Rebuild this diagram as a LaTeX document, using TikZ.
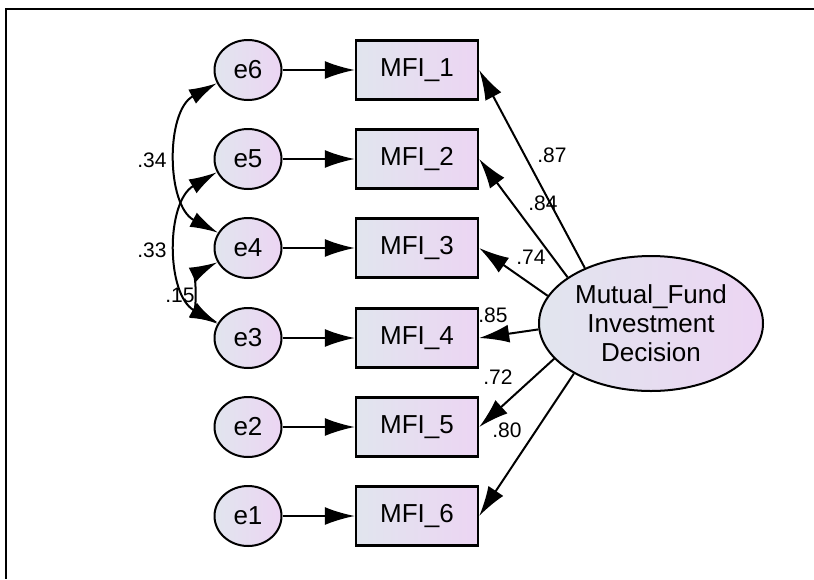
\documentclass[tikz,border=0pt]{standalone}
\usepackage{fontspec}
\setmainfont{Liberation Sans}
\usetikzlibrary{arrows.meta,shapes.geometric}

\definecolor{semleft}{RGB}{225,229,238}
\definecolor{semright}{RGB}{236,213,243}

\begin{document}
\begin{tikzpicture}[x=0.5pt,y=-0.5pt]
\tikzstyle{every node}+=[font=\fontsize{13}{14.5}\selectfont]
\tikzstyle{errvar}=[draw,ellipse,line width=1pt,left color=semleft,right color=semright,minimum width=33.5pt,minimum height=30pt,inner sep=0pt]
\tikzstyle{obsvar}=[draw,rectangle,line width=1.2pt,left color=semleft,right color=semright,minimum width=61pt,minimum height=29.5pt,inner sep=0pt]
\tikzstyle{latvar}=[draw,ellipse,line width=1pt,left color=semleft,right color=semright,minimum width=112pt,minimum height=67.5pt,inner sep=0pt,align=center]
\tikzstyle{semarrow}=[-{Latex[length=15pt,width=9pt]},line width=1pt]
\tikzstyle{covarrow}=[{Latex[length=14pt,width=8pt]}-{Latex[length=14pt,width=8pt]},line width=1pt]
\tikzstyle{coef}=[font=\fontsize{10.5}{12}\selectfont,inner sep=0pt]
\useasboundingbox (0,0) rectangle (814,579);
% frame
\coordinate (fr0) at (6,9);
\coordinate (fr1) at (814,9);
\coordinate (fr2) at (6,579);
\draw [line width=0.8pt] (fr1) -- (fr0) -- (fr2);
% error terms
\node [errvar] (e6) at (248,70) {e6};
\node [errvar] (e5) at (248,159) {e5};
\node [errvar] (e4) at (248,248) {e4};
\node [errvar] (e3) at (248,338) {e3};
\node [errvar] (e2) at (248,427) {e2};
\node [errvar] (e1) at (248,516) {e1};
% indicators
\node [obsvar] (mfi1) at (417,70) {MFI\_1};
\node [obsvar] (mfi2) at (417,159) {MFI\_2};
\node [obsvar] (mfi3) at (417,248) {MFI\_3};
\node [obsvar] (mfi4) at (417,338) {MFI\_4};
\node [obsvar] (mfi5) at (417,427) {MFI\_5};
\node [obsvar] (mfi6) at (417,516) {MFI\_6};
% latent
\node [latvar] (mfid) at (651,323.5) {Mutual\_Fund\\Investment\\Decision};
% error paths
\draw [semarrow] (e6) -- (mfi1);
\draw [semarrow] (e5) -- (mfi2);
\draw [semarrow] (e4) -- (mfi3);
\draw [semarrow] (e3) -- (mfi4);
\draw [semarrow] (e2) -- (mfi5);
\draw [semarrow] (e1) -- (mfi6);
% loadings
\draw [semarrow] (mfid.140) -- (mfi1.east);
\draw [semarrow] (mfid.151) -- (mfi2.east);
\draw [semarrow] (mfid.165) -- (mfi3.east);
\draw [semarrow] (mfid.183) -- (mfi4.east);
\draw [semarrow] (mfid.200) -- (mfi5.east);
\draw [semarrow] (mfid.213) -- (mfi6.east);
\node [coef] (l1) at (552,155) {.87};
\node [coef] (l2) at (543,203) {.84};
\node [coef] (l3) at (531,257) {.74};
\node [coef] (l4) at (493,315) {.85};
\node [coef] (l5) at (498,377) {.72};
\node [coef] (l6) at (507,430) {.80};
% covariances
\draw [covarrow] (e6.203) to [bend right=62] (e4.153);
\draw [covarrow] (e5.203) to [bend right=60] (e3.155);
\draw [covarrow] (e4.205) to [bend right=64] (e3.153);
\node [coef] (c64) at (152,160) {.34};
\node [coef] (c53) at (152,250) {.33};
\node [coef] (c43) at (180,295) {.15};
\end{tikzpicture}
\end{document}
